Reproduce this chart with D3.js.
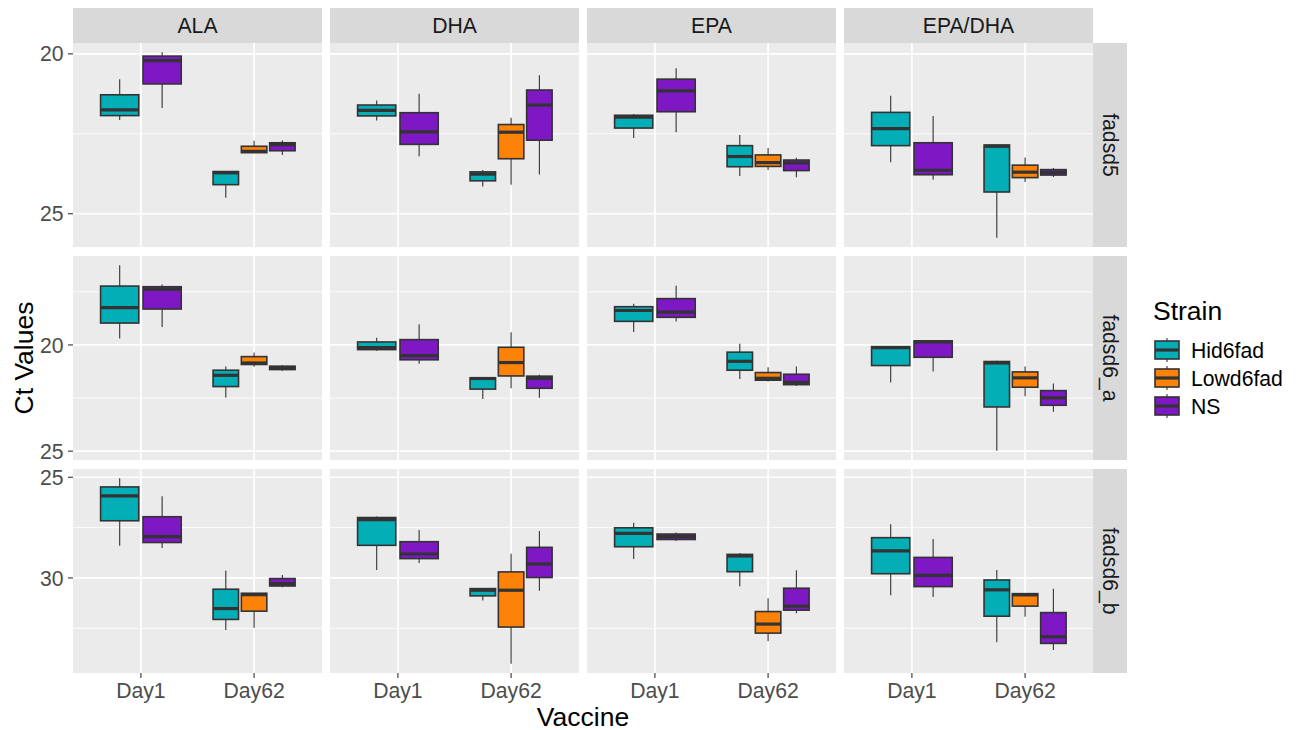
<!DOCTYPE html>
<html>
<head>
<meta charset="utf-8">
<script src="https://cdn.jsdelivr.net/npm/d3@7/dist/d3.min.js"></script>
<style>
  html, body { margin: 0; padding: 0; background: #fff; }
  svg { display: block; font-family: "Liberation Sans", Arial, Helvetica, sans-serif; }
</style>
</head>
<body>
<svg id="chart" width="1308" height="730"></svg>
<script>
// Facet categories
const vaccines = ["ALA", "DHA", "EPA", "EPA/DHA"];
const genes = ["fadsd5", "fadsd6_a", "fadsd6_b"];
const days = ["Day1", "Day62"];
const strains = ["Hid6fad", "Lowd6fad", "NS"];
const strainColors = ["#03AEB7", "#FD8208", "#7D18C4"];

// Box statistics: [vaccine, day, strain, lower whisker, Q1, median, Q3, upper whisker]
const fadsd5Boxes = [
  ["ALA", "Day1", "Hid6fad", 20.79, 21.28, 21.75, 21.93, 22.07],
  ["ALA", "Day1", "NS", 19.95, 20.07, 20.21, 20.94, 21.69],
  ["ALA", "Day62", "Hid6fad", 23.68, 23.68, 23.72, 24.09, 24.50],
  ["ALA", "Day62", "Lowd6fad", 22.72, 22.89, 23.05, 23.09, 23.09],
  ["ALA", "Day62", "NS", 22.71, 22.78, 22.84, 23.03, 23.16],
  ["DHA", "Day1", "Hid6fad", 21.46, 21.60, 21.77, 21.94, 22.08],
  ["DHA", "Day1", "NS", 21.25, 21.84, 22.44, 22.83, 23.20],
  ["DHA", "Day62", "Hid6fad", 23.63, 23.69, 23.76, 23.97, 24.15],
  ["DHA", "Day62", "Lowd6fad", 22.00, 22.21, 22.45, 23.28, 24.09],
  ["DHA", "Day62", "NS", 20.67, 21.13, 21.60, 22.70, 23.77],
  ["EPA", "Day1", "Hid6fad", 21.88, 21.92, 21.98, 22.32, 22.63],
  ["EPA", "Day1", "NS", 20.45, 20.79, 21.16, 21.81, 22.45],
  ["EPA", "Day62", "Hid6fad", 22.54, 22.87, 23.21, 23.53, 23.82],
  ["EPA", "Day62", "Lowd6fad", 22.94, 23.16, 23.40, 23.52, 23.63],
  ["EPA", "Day62", "NS", 23.25, 23.32, 23.41, 23.65, 23.86],
  ["EPA/DHA", "Day1", "Hid6fad", 21.31, 21.83, 22.34, 22.87, 23.39],
  ["EPA/DHA", "Day1", "NS", 21.94, 22.78, 23.64, 23.78, 23.94],
  ["EPA/DHA", "Day62", "Hid6fad", 22.85, 22.85, 22.89, 24.32, 25.75],
  ["EPA/DHA", "Day62", "Lowd6fad", 23.24, 23.48, 23.70, 23.87, 24.01],
  ["EPA/DHA", "Day62", "NS", 23.57, 23.62, 23.71, 23.79, 23.85]
];

const fadsd6aBoxes = [
  ["ALA", "Day1", "Hid6fad", 16.25, 17.23, 18.24, 18.97, 19.70],
  ["ALA", "Day1", "NS", 17.16, 17.26, 17.37, 18.31, 19.16],
  ["ALA", "Day62", "Hid6fad", 21.02, 21.19, 21.43, 21.96, 22.48],
  ["ALA", "Day62", "Lowd6fad", 20.36, 20.55, 20.85, 20.92, 21.03],
  ["ALA", "Day62", "NS", 20.96, 21.00, 21.08, 21.16, 21.22],
  ["DHA", "Day1", "Hid6fad", 19.66, 19.86, 20.13, 20.22, 20.27],
  ["DHA", "Day1", "NS", 19.03, 19.75, 20.50, 20.70, 20.89],
  ["DHA", "Day62", "Hid6fad", 21.55, 21.55, 21.58, 22.08, 22.55],
  ["DHA", "Day62", "Lowd6fad", 19.40, 20.11, 20.83, 21.46, 22.04],
  ["DHA", "Day62", "NS", 21.40, 21.47, 21.57, 22.04, 22.49],
  ["EPA", "Day1", "Hid6fad", 18.06, 18.20, 18.38, 18.89, 19.39],
  ["EPA", "Day1", "NS", 17.21, 17.82, 18.46, 18.70, 18.90],
  ["EPA", "Day62", "Hid6fad", 19.95, 20.34, 20.77, 21.19, 21.60],
  ["EPA", "Day62", "Lowd6fad", 21.05, 21.30, 21.57, 21.66, 21.72],
  ["EPA", "Day62", "NS", 21.02, 21.38, 21.76, 21.87, 21.93],
  ["EPA/DHA", "Day1", "Hid6fad", 20.05, 20.08, 20.13, 20.97, 21.77],
  ["EPA/DHA", "Day1", "NS", 19.78, 19.81, 19.86, 20.58, 21.25],
  ["EPA/DHA", "Day62", "Hid6fad", 20.74, 20.78, 20.85, 22.92, 24.98],
  ["EPA/DHA", "Day62", "Lowd6fad", 21.02, 21.27, 21.55, 21.99, 22.41],
  ["EPA/DHA", "Day62", "NS", 21.82, 22.15, 22.49, 22.84, 23.15]
];

const fadsd6bBoxes = [
  ["ALA", "Day1", "Hid6fad", 25.05, 25.48, 25.92, 27.16, 28.40],
  ["ALA", "Day1", "NS", 25.94, 26.96, 27.95, 28.24, 28.51],
  ["ALA", "Day62", "Hid6fad", 29.64, 30.56, 31.52, 32.06, 32.59],
  ["ALA", "Day62", "Lowd6fad", 30.76, 30.76, 30.83, 31.65, 32.47],
  ["ALA", "Day62", "NS", 29.85, 30.03, 30.28, 30.40, 30.46],
  ["DHA", "Day1", "Hid6fad", 26.95, 27.00, 27.10, 28.38, 29.60],
  ["DHA", "Day1", "NS", 27.62, 28.20, 28.81, 29.04, 29.26],
  ["DHA", "Day62", "Hid6fad", 30.50, 30.53, 30.61, 30.89, 31.12],
  ["DHA", "Day62", "Lowd6fad", 28.80, 29.70, 30.61, 32.44, 34.26],
  ["DHA", "Day62", "NS", 27.67, 28.48, 29.31, 29.98, 30.64],
  ["EPA", "Day1", "Hid6fad", 27.26, 27.51, 27.79, 28.45, 29.06],
  ["EPA", "Day1", "NS", 27.74, 27.82, 27.95, 28.09, 28.17],
  ["EPA", "Day62", "Hid6fad", 28.76, 28.83, 28.91, 29.69, 30.41],
  ["EPA", "Day62", "Lowd6fad", 31.01, 31.67, 32.29, 32.74, 33.14],
  ["EPA", "Day62", "NS", 29.62, 30.51, 31.40, 31.60, 31.75],
  ["EPA/DHA", "Day1", "Hid6fad", 27.33, 28.00, 28.66, 29.79, 30.86],
  ["EPA/DHA", "Day1", "NS", 28.07, 28.98, 29.87, 30.43, 30.94],
  ["EPA/DHA", "Day62", "Hid6fad", 29.60, 30.10, 30.59, 31.90, 33.19],
  ["EPA/DHA", "Day62", "Lowd6fad", 30.78, 30.78, 30.84, 31.40, 31.93],
  ["EPA/DHA", "Day62", "NS", 30.54, 31.72, 32.92, 33.25, 33.58]
];

const boxesByGene = [fadsd5Boxes, fadsd6aBoxes, fadsd6bBoxes];

// Layout
const layout = {
  panelLeft: 73, panelW: 249, colGap: 8,
  stripTop: 8, stripH: 35, rowTop: 43, panelH: 204, rowGap: 9,
  rightStripW: 34
};
const colLeft = i => layout.panelLeft + i * (layout.panelW + layout.colGap);
const rowTop = j => layout.rowTop + j * (layout.panelH + layout.rowGap);
const panelsRight = colLeft(vaccines.length - 1) + layout.panelW;
const panelsBottom = rowTop(genes.length - 1) + layout.panelH;

const color = d3.scaleOrdinal().domain(strains).range(strainColors);
const svg = d3.select("#chart");
const smallFont = 21.2, titleFont = 26.5;

// Reversed, free y scale per gene row (5% expansion like ggplot)
const yScales = boxesByGene.map((rows, j) => {
  const lo = d3.min(rows, r => r[3]), hi = d3.max(rows, r => r[7]);
  const pad = (hi - lo) * 0.05;
  return d3.scaleLinear().domain([lo - pad, hi + pad]).range([rowTop(j), rowTop(j) + layout.panelH]);
});

function majorTicks(scale) {
  const [a, b] = scale.domain();
  return d3.range(Math.ceil(a / 5) * 5, b + 1e-9, 5);
}
function minorTicks(scale) {
  const [a, b] = scale.domain();
  return d3.range(Math.ceil((a - 2.5) / 5) * 5 + 2.5, b + 1e-9, 5).filter(v => v >= a && v <= b);
}

vaccines.forEach((vac, i) => {
  const x0 = colLeft(i);
  const xScale = d3.scalePoint().domain(days).range([x0, x0 + layout.panelW]).padding(0.6);
  const step = xScale.step();

  // column strip
  svg.append("rect").attr("x", x0).attr("y", layout.stripTop)
    .attr("width", layout.panelW).attr("height", layout.stripH).attr("fill", "#D9D9D9");
  svg.append("text").attr("x", x0 + layout.panelW / 2).attr("y", layout.stripTop + 25)
    .attr("text-anchor", "middle").attr("font-size", smallFont).attr("fill", "#1A1A1A").text(vac);

  genes.forEach((gene, j) => {
    const y = yScales[j];
    const y0 = rowTop(j);
    const g = svg.append("g");
    g.append("rect").attr("x", x0).attr("y", y0).attr("width", layout.panelW)
      .attr("height", layout.panelH).attr("fill", "#EBEBEB");

    // grid
    g.selectAll(".minor").data(minorTicks(y)).join("line")
      .attr("x1", x0).attr("x2", x0 + layout.panelW)
      .attr("y1", d => y(d)).attr("y2", d => y(d))
      .attr("stroke", "#fff").attr("stroke-width", 0.9);
    g.selectAll(".major").data(majorTicks(y)).join("line")
      .attr("x1", x0).attr("x2", x0 + layout.panelW)
      .attr("y1", d => y(d)).attr("y2", d => y(d))
      .attr("stroke", "#fff").attr("stroke-width", 1.7);
    g.selectAll(".vmajor").data(days).join("line")
      .attr("x1", d => xScale(d)).attr("x2", d => xScale(d))
      .attr("y1", y0).attr("y2", y0 + layout.panelH)
      .attr("stroke", "#fff").attr("stroke-width", 1.7);

    // boxes, dodged within each day
    const rows = boxesByGene[j].filter(r => r[0] === vac);
    days.forEach(day => {
      const dayRows = rows.filter(r => r[1] === day)
        .sort((a, b) => strains.indexOf(a[2]) - strains.indexOf(b[2]));
      const n = dayRows.length;
      const slot = 0.75 * step / n;
      const bw = slot * 0.9;
      dayRows.forEach((r, k) => {
        const cx = xScale(day) + (k - (n - 1) / 2) * slot;
        const [, , strain, low, q1, med, q3, high] = r;
        g.append("line").attr("x1", cx).attr("x2", cx)
          .attr("y1", y(low)).attr("y2", y(q1))
          .attr("stroke", "#333").attr("stroke-width", 1.1);
        g.append("line").attr("x1", cx).attr("x2", cx)
          .attr("y1", y(q3)).attr("y2", y(high))
          .attr("stroke", "#333").attr("stroke-width", 1.1);
        g.append("rect").attr("x", cx - bw / 2).attr("y", y(q1))
          .attr("width", bw).attr("height", Math.max(0, y(q3) - y(q1)))
          .attr("fill", color(strain)).attr("stroke", "#333").attr("stroke-width", 1.6);
        g.append("line").attr("x1", cx - bw / 2).attr("x2", cx + bw / 2)
          .attr("y1", y(med)).attr("y2", y(med))
          .attr("stroke", "#333").attr("stroke-width", 3.2);
      });
    });

    // y axis on the first column
    if (i === 0) {
      const ax = svg.append("g");
      majorTicks(y).forEach(v => {
        ax.append("line").attr("x1", x0 - 5).attr("x2", x0).attr("y1", y(v)).attr("y2", y(v))
          .attr("stroke", "#333").attr("stroke-width", 1.1);
        ax.append("text").attr("x", x0 - 9.5).attr("y", y(v) + 7.6)
          .attr("text-anchor", "end").attr("font-size", smallFont).attr("fill", "#4D4D4D").text(v);
      });
    }
    // x axis on the last row
    if (j === genes.length - 1) {
      const ax = svg.append("g");
      days.forEach(d => {
        ax.append("line").attr("x1", xScale(d)).attr("x2", xScale(d))
          .attr("y1", y0 + layout.panelH).attr("y2", y0 + layout.panelH + 5)
          .attr("stroke", "#333").attr("stroke-width", 1.1);
        ax.append("text").attr("x", xScale(d)).attr("y", 697.5)
          .attr("text-anchor", "middle").attr("font-size", smallFont).attr("fill", "#4D4D4D").text(d);
      });
    }
  });
});

// row strips
genes.forEach((gene, j) => {
  const y0 = rowTop(j);
  svg.append("rect").attr("x", panelsRight).attr("y", y0)
    .attr("width", layout.rightStripW).attr("height", layout.panelH).attr("fill", "#D9D9D9");
  svg.append("text")
    .attr("transform", `translate(${panelsRight + 9.5},${y0 + layout.panelH / 2}) rotate(90)`)
    .attr("text-anchor", "middle").attr("font-size", smallFont).attr("fill", "#1A1A1A").text(gene);
});

// axis titles
svg.append("text").attr("x", (layout.panelLeft + panelsRight) / 2).attr("y", 725.5)
  .attr("text-anchor", "middle").attr("font-size", titleFont).attr("fill", "#000").text("Vaccine");
svg.append("text")
  .attr("transform", `translate(33,${(layout.rowTop + panelsBottom) / 2}) rotate(-90)`)
  .attr("text-anchor", "middle").attr("font-size", titleFont).attr("fill", "#000").text("Ct Values");

// legend
const lg = svg.append("g").attr("transform", "translate(1153,0)");
lg.append("text").attr("x", 0).attr("y", 320).attr("font-size", titleFont).attr("fill", "#000").text("Strain");
const keySize = 28;
strains.forEach((s, k) => {
  const ky = 336 + k * keySize;
  lg.append("line").attr("x1", keySize / 2).attr("x2", keySize / 2)
    .attr("y1", ky + 2).attr("y2", ky + keySize - 2).attr("stroke", "#333").attr("stroke-width", 1.1);
  lg.append("rect").attr("x", 2).attr("y", ky + 5).attr("width", keySize - 4).attr("height", keySize - 10)
    .attr("fill", color(s)).attr("stroke", "#333").attr("stroke-width", 1.6);
  lg.append("line").attr("x1", 2).attr("x2", keySize - 2).attr("y1", ky + keySize / 2).attr("y2", ky + keySize / 2)
    .attr("stroke", "#333").attr("stroke-width", 3.2);
  lg.append("text").attr("x", 38).attr("y", ky + keySize / 2 + 7.5)
    .attr("font-size", smallFont).attr("fill", "#000").text(s);
});
</script>
</body>
</html>
